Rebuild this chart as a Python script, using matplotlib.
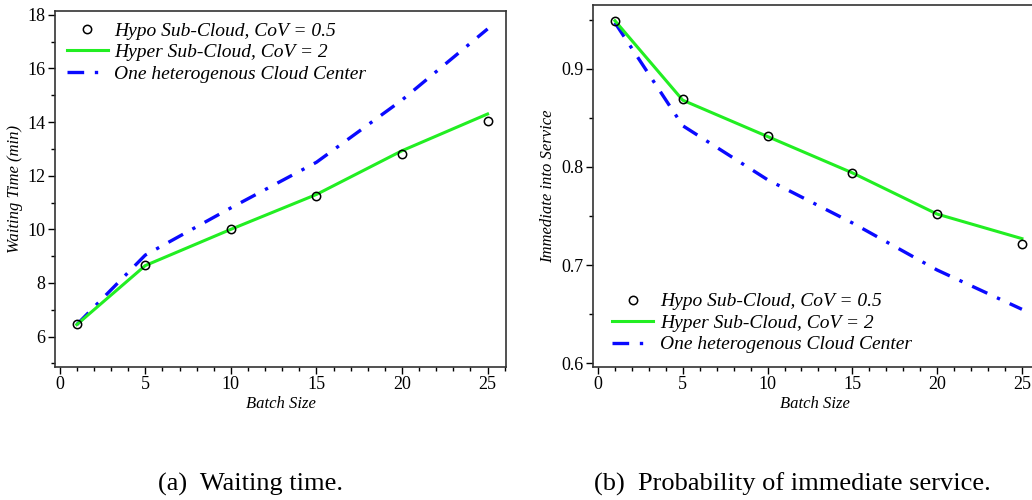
import numpy as np
import matplotlib
matplotlib.use("Agg")
import matplotlib.pyplot as plt
from matplotlib.ticker import MultipleLocator

plt.rcParams['font.family'] = ['Liberation Serif', 'DejaVu Serif']
plt.rcParams['mathtext.fontset'] = 'stix'

# data
batch = [1, 5, 10, 15, 20, 25]

wait_hypo = [6.46, 8.67, 10.03, 11.24, 12.80, 14.03]
wait_hyper = [6.45, 8.65, 10.00, 11.30, 12.93, 14.30]
wait_one = [6.45, 9.04, 10.80, 12.50, 14.82, 17.47]

imm_hypo = [0.949, 0.869, 0.832, 0.794, 0.752, 0.722]
imm_hyper = [0.949, 0.868, 0.831, 0.794, 0.752, 0.727]
imm_one = [0.947, 0.842, 0.787, 0.743, 0.695, 0.655]

labels = ['Hypo Sub-Cloud, CoV = 0.5',
          'Hyper Sub-Cloud, CoV = 2',
          'One heterogenous Cloud Center']

GREEN = '#22ee22'
BLUE = '#0a0aff'

fig = plt.figure(figsize=(10.32, 5.0), dpi=100)
ax1 = fig.add_axes([0.0537, 0.2666, 0.437, 0.712])
ax2 = fig.add_axes([0.575, 0.2666, 0.430, 0.7234])


def draw(ax, hypo, hyper, one):
    ax.plot(batch, one, color=BLUE, lw=2.4, dashes=(5, 3.2, 1, 3.2), label=labels[2], zorder=2)
    ax.plot(batch, hyper, color=GREEN, lw=2.2, label=labels[1], zorder=3)
    ax.plot(batch, hypo, 'o', ms=6, mfc='none', mec='black', mew=1.1, label=labels[0], zorder=4)
    for s in ax.spines.values():
        s.set_color('#333333')
        s.set_linewidth(1.2)
    ax.tick_params(direction='out', length=5, width=1, labelsize=13, pad=2)
    ax.tick_params(which='minor', direction='out', length=3, width=1)
    ax.xaxis.set_major_locator(MultipleLocator(5))
    ax.xaxis.set_minor_locator(MultipleLocator(1))
    ax.set_xlabel('Batch Size', style='italic', fontsize=12, labelpad=2)
    h, l = ax.get_legend_handles_labels()
    return h[::-1], l[::-1]


legend_kw = dict(frameon=False, prop={'style': 'italic', 'size': 14},
                 handlelength=2.1, handletextpad=0.35, labelspacing=0.2,
                 borderaxespad=0.0)

h, l = draw(ax1, wait_hypo, wait_hyper, wait_one)
ax1.set_xlim(-0.25, 26.1)
ax1.set_ylim(4.88, 18.15)
ax1.yaxis.set_major_locator(MultipleLocator(2))
ax1.yaxis.set_minor_locator(MultipleLocator(1))
ax1.set_ylabel('Waiting Time (min)', style='italic', fontsize=12, labelpad=3)
ax1.legend(h, l, loc='upper left', bbox_to_anchor=(0.008, 0.99), **legend_kw)

h, l = draw(ax2, imm_hypo, imm_hyper, imm_one)
ax2.set_xlim(-0.27, 25.9)
ax2.set_ylim(0.5965, 0.9650)
ax2.yaxis.set_major_locator(MultipleLocator(0.1))
ax2.yaxis.set_minor_locator(MultipleLocator(0.05))
ax2.set_ylabel('Immediate into Service', style='italic', fontsize=12, labelpad=4)
ax2.legend(h, l, loc='lower left', bbox_to_anchor=(0.025, 0.015), **legend_kw)

fig.text(0.243, 0.018, '(a)  Waiting time.', ha='center', fontsize=19)
fig.text(0.768, 0.018, '(b)  Probability of immediate service.', ha='center', fontsize=19)

fig.savefig('out.png', dpi=100)
